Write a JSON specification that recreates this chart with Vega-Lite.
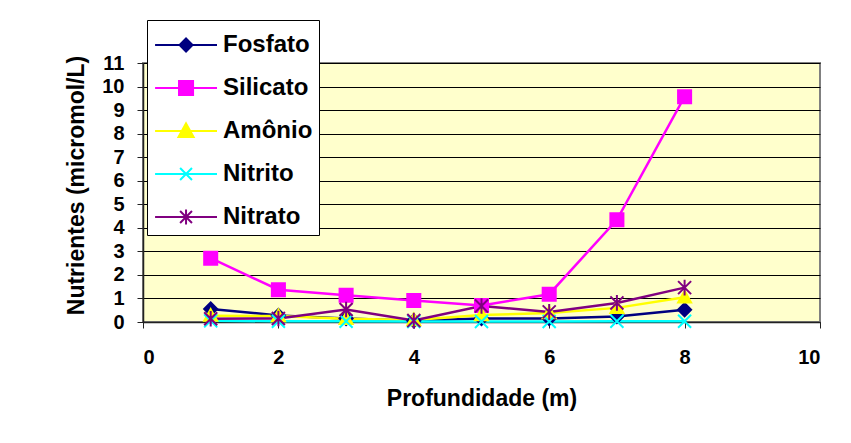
{
  "$schema": "https://vega.github.io/schema/vega-lite/v6.json",
  "width": 677,
  "height": 259,
  "autosize": "none",
  "padding": {"left": 143, "top": 63, "right": 31, "bottom": 121},
  "background": "white",
  "config": {
    "font": "Liberation Sans",
    "view": {"fill": "#FFFFCC", "stroke": "#808080", "strokeWidth": 2},
    "axis": {
      "labelFont": "Liberation Sans",
      "labelFontSize": 20,
      "labelFontWeight": "bold",
      "labelColor": "black",
      "titleFont": "Liberation Sans",
      "titleFontSize": 23,
      "titleFontWeight": "bold",
      "titleColor": "black",
      "domainColor": "#222222",
      "domainWidth": 1.5,
      "tickColor": "#222222",
      "tickSize": 6
    }
  },
  "data": {
    "values": [
      {"prof": 1, "nutriente": "Fosfato", "valor": 0.55},
      {"prof": 2, "nutriente": "Fosfato", "valor": 0.28},
      {"prof": 3, "nutriente": "Fosfato", "valor": 0.15},
      {"prof": 4, "nutriente": "Fosfato", "valor": 0.05},
      {"prof": 5, "nutriente": "Fosfato", "valor": 0.15},
      {"prof": 6, "nutriente": "Fosfato", "valor": 0.15},
      {"prof": 7, "nutriente": "Fosfato", "valor": 0.23},
      {"prof": 8, "nutriente": "Fosfato", "valor": 0.52},
      {"prof": 1, "nutriente": "Silicato", "valor": 2.71},
      {"prof": 2, "nutriente": "Silicato", "valor": 1.37},
      {"prof": 3, "nutriente": "Silicato", "valor": 1.14},
      {"prof": 4, "nutriente": "Silicato", "valor": 0.91},
      {"prof": 5, "nutriente": "Silicato", "valor": 0.7},
      {"prof": 6, "nutriente": "Silicato", "valor": 1.18},
      {"prof": 7, "nutriente": "Silicato", "valor": 4.34},
      {"prof": 8, "nutriente": "Silicato", "valor": 9.57},
      {"prof": 1, "nutriente": "Amônio", "valor": 0.27},
      {"prof": 2, "nutriente": "Amônio", "valor": 0.25},
      {"prof": 3, "nutriente": "Amônio", "valor": 0.14},
      {"prof": 4, "nutriente": "Amônio", "valor": 0.08},
      {"prof": 5, "nutriente": "Amônio", "valor": 0.3},
      {"prof": 6, "nutriente": "Amônio", "valor": 0.38},
      {"prof": 7, "nutriente": "Amônio", "valor": 0.6},
      {"prof": 8, "nutriente": "Amônio", "valor": 1.05},
      {"prof": 1, "nutriente": "Nitrito", "valor": 0.05},
      {"prof": 2, "nutriente": "Nitrito", "valor": 0.03},
      {"prof": 3, "nutriente": "Nitrito", "valor": 0.03},
      {"prof": 4, "nutriente": "Nitrito", "valor": 0.02},
      {"prof": 5, "nutriente": "Nitrito", "valor": 0.02},
      {"prof": 6, "nutriente": "Nitrito", "valor": 0.02},
      {"prof": 7, "nutriente": "Nitrito", "valor": 0.03},
      {"prof": 8, "nutriente": "Nitrito", "valor": 0.03},
      {"prof": 1, "nutriente": "Nitrato", "valor": 0.14},
      {"prof": 2, "nutriente": "Nitrato", "valor": 0.15},
      {"prof": 3, "nutriente": "Nitrato", "valor": 0.53},
      {"prof": 4, "nutriente": "Nitrato", "valor": 0.06},
      {"prof": 5, "nutriente": "Nitrato", "valor": 0.68},
      {"prof": 6, "nutriente": "Nitrato", "valor": 0.43},
      {"prof": 7, "nutriente": "Nitrato", "valor": 0.81},
      {"prof": 8, "nutriente": "Nitrato", "valor": 1.46}
    ]
  },
  "encoding": {
    "x": {
      "field": "prof",
      "type": "quantitative",
      "scale": {"domain": [0, 10], "nice": false},
      "axis": {
        "title": "Profundidade (m)",
        "values": [0, 2, 4, 6, 8, 10],
        "grid": false,
        "labelPadding": 19,
        "titlePadding": 20
      }
    },
    "y": {
      "field": "valor",
      "type": "quantitative",
      "scale": {"domain": [0, 11], "nice": false},
      "axis": {
        "title": "Nutrientes (micromol/L)",
        "values": [0, 1, 2, 3, 4, 5, 6, 7, 8, 9, 10, 11],
        "grid": true,
        "gridColor": "black",
        "gridWidth": 1,
        "labelPadding": 13,
        "titlePadding": 13,
        "titleY": 122
      }
    }
  },
  "layer": [
    {
      "mark": {"type": "line", "strokeWidth": 2.5},
      "encoding": {
        "color": {
          "field": "nutriente",
          "type": "nominal",
          "scale": {
            "domain": ["Fosfato", "Silicato", "Amônio", "Nitrito", "Nitrato"],
            "range": ["#000080", "#FF00FF", "#FFFF00", "#00FFFF", "#800080"]
          },
          "legend": {
            "orient": "none",
            "legendX": 4,
            "legendY": -43,
            "title": null,
            "fillColor": "white",
            "strokeColor": "black",
            "padding": 6,
            "symbolSize": 1296,
            "symbolStrokeWidth": 2,
            "labelFont": "Liberation Sans",
            "labelFontSize": 24,
            "labelFontWeight": "bold",
            "labelColor": "black",
            "labelOffset": 32,
            "rowPadding": 12,
            "encode": {
              "symbols": {
                "update": {
                  "shape": {"signal": "datum.value === 'Fosfato' ? 'M-0.94,0H2.5M0.78,-0.36L1.14,0L0.78,0.36L0.42,0Z' : datum.value === 'Silicato' ? 'M-0.94,0H2.5M0.39,-0.39H1.17V0.39H0.39Z' : datum.value === 'Amônio' ? 'M-0.94,0H2.5M0.78,-0.42L1.2,0.34L0.36,0.34Z' : datum.value === 'Nitrito' ? 'M-0.94,0H2.5M0.45,-0.33L1.11,0.33M1.11,-0.33L0.45,0.33' : 'M-0.94,0H2.5M0.45,-0.33L1.11,0.33M1.11,-0.33L0.45,0.33M0.78,-0.42V0.42'"},
                  "fill": {"scale": "color", "field": "value"},
                  "stroke": {"scale": "color", "field": "value"},
                  "opacity": {"value": 1}
                }
              }
            }
          }
        }
      }
    },
    {
      "transform": [{"calculate": "datum.nutriente", "as": "serie"}],
      "mark": {"type": "point", "filled": true, "opacity": 1, "strokeWidth": 2},
      "encoding": {
        "color": {"field": "nutriente", "type": "nominal"},
        "stroke": {
          "field": "serie",
          "type": "nominal",
          "scale": {
            "range": ["#FFFF00", "#000080", "#800080", "#00FFFF", "#FF00FF"]
          },
          "legend": null
        },
        "shape": {
          "field": "serie",
          "type": "nominal",
          "scale": {
            "range": [
              "M0,-1L1,0.8L-1,0.8Z",
              "diamond",
              "M-1,-1L1,1M1,-1L-1,1M0,-1.2V1.2",
              "M-1,-1L1,1M1,-1L-1,1",
              "square"
            ]
          },
          "legend": null
        },
        "size": {"value": 170}
      }
    }
  ]
}
